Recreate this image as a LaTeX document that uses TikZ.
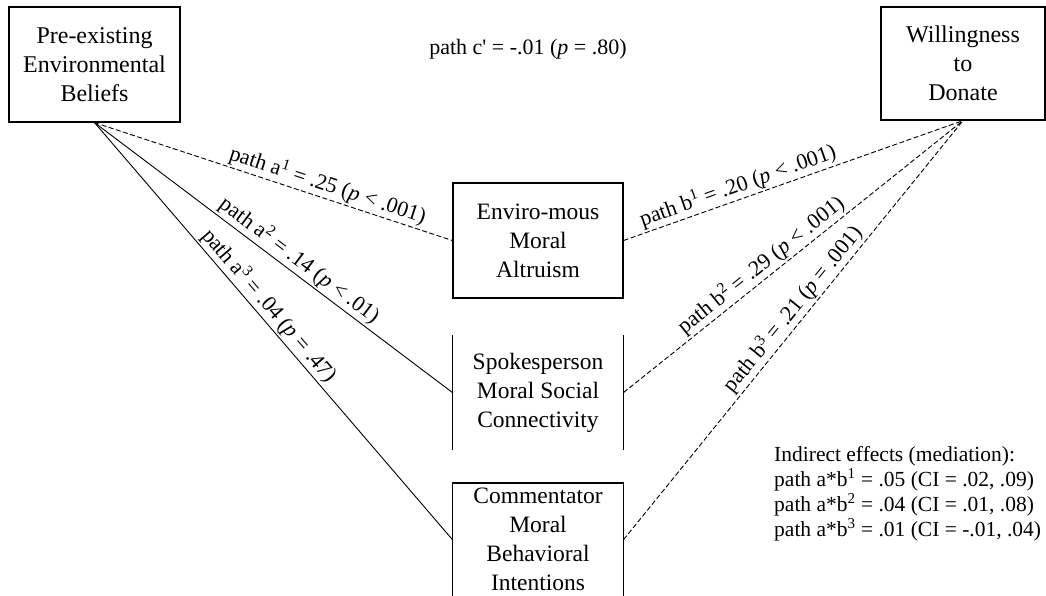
\documentclass[tikz,border=0pt]{standalone}
\usepackage{fontspec}
\setmainfont{Liberation Serif}
\newcommand{\sq}{\textquotesingle}
\begin{document}
\begin{tikzpicture}[x=1pt,y=-1pt,
  bigbox/.style={draw,line width=1.2pt,align=center,inner sep=0pt,font=\fontsize{24}{29}\selectfont},
  midbox/.style={draw,line width=1.2pt,align=center,inner sep=0pt,font=\fontsize{23.5}{29}\selectfont},
  lbl/.style={font=\fontsize{22}{25}\selectfont,inner sep=2pt},
  conn/.style={line width=0.9pt},
  dconn/.style={line width=0.9pt,dash pattern=on 5pt off 2.5pt}]
\useasboundingbox (0,0) rectangle (1046,596);
\clip (0,0) rectangle (1046,596);
\node[bigbox,minimum width=171pt,minimum height=115pt] (peb) at (94.5,64.5) {Pre-existing\\Environmental\\Beliefs};
\node[bigbox,minimum width=164pt,minimum height=113pt] (wtd) at (963,63.5) {Willingness\\to\\Donate};
\node[lbl] (cp) at (528,49) {path c\sq{} = -.01 (\textit{p} = .80)};
\node[midbox,minimum width=170pt,minimum height=115pt] (ema) at (538,240.5) {Enviro-mous\\Moral\\Altruism};
\node[midbox,draw=none,minimum width=170pt,minimum height=113pt] (smsc) at (538,392.5) {Spokesperson\\Moral Social\\Connectivity};
\draw[line width=1.2pt] (smsc.north west) -- (smsc.south west) (smsc.north east) -- (smsc.south east);
\node[midbox,draw=none,minimum width=170pt,minimum height=112pt,anchor=north] (cmbi) at (538,483) {Commentator\\Moral\\Behavioral\\Intentions};
\draw[line width=1.2pt] (cmbi.north west) -- (cmbi.north east) (cmbi.north west) -- ++(0,130) (cmbi.north east) -- ++(0,130);
\draw[dconn] (peb.south) -- node[lbl,sloped,above,pos=0.64] {path a\textsuperscript{1} = .25 (\textit{p} < .001)} (ema.west);
\draw[conn] (peb.south) -- node[lbl,sloped,above,pos=0.55] {path a\textsuperscript{2} = .14 (\textit{p} < .01)} (smsc.west);
\draw[conn] (peb.south) -- node[lbl,sloped,above,pos=0.46] {path a\textsuperscript{3} = .04 (\textit{p} = .47)} (cmbi.west);
\draw[dconn] (ema.east) -- node[lbl,sloped,above,pos=0.35] {path b\textsuperscript{1} = .20 (\textit{p} < .001)} (wtd.south);
\draw[dconn] (smsc.east) -- node[lbl,sloped,above,pos=0.43] {path b\textsuperscript{2} = .29 (\textit{p} < .001)} (wtd.south);
\draw[dconn] (cmbi.east) -- node[lbl,sloped,above,pos=0.53] {path b\textsuperscript{3} = .21 (\textit{p} = .001)} (wtd.south);
\node[align=left,anchor=north west,inner sep=0pt,font=\fontsize{21.5}{25}\selectfont] (ind) at (774,446) {Indirect effects (mediation):\\path a*b\textsuperscript{1} = .05 (CI = .02, .09)\\path a*b\textsuperscript{2} = .04 (CI = .01, .08)\\path a*b\textsuperscript{3} = .01 (CI = -.01, .04)};
\end{tikzpicture}
\end{document}
